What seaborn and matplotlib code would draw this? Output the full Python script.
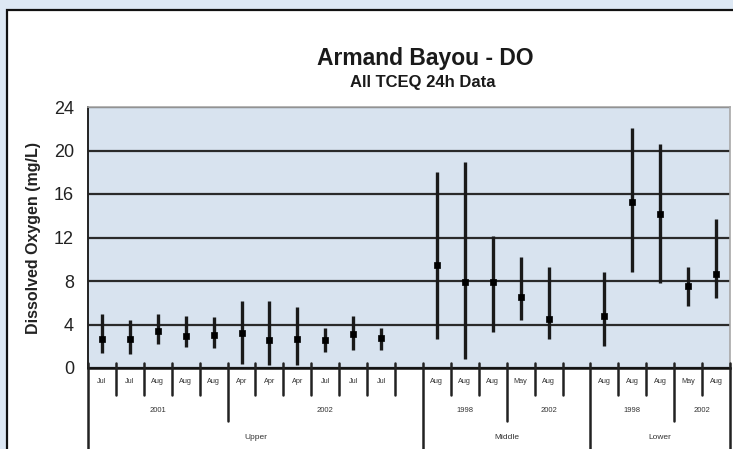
import numpy as np
import pandas as pd
import matplotlib
matplotlib.use("Agg")
import matplotlib.pyplot as plt
import matplotlib.patches as mpatches
import seaborn as sns

# ─── Data ────────────────────────────────────────────────────────────────────
REGIONS = ["Upper", "Middle", "Lower"]

region = ["Upper"] * 11 + ["Middle"] * 5 + ["Lower"] * 5
year = (["2001"] * 5 + ["2002"] * 6 +
        ["1998"] * 3 + ["2002"] * 2 +
        ["1998"] * 3 + ["2002"] * 2)
month = ["Jul", "Jul", "Aug", "Aug", "Aug", "Apr", "Apr", "Apr", "Jul", "Jul", "Jul",
         "Aug", "Aug", "Aug", "May", "Aug",
         "Aug", "Aug", "Aug", "May", "Aug"]

do_mean = [2.7, 2.7, 3.4, 2.9, 3.0, 3.2, 2.6, 2.7, 2.6, 3.1, 2.8,
           9.5, 7.9, 7.9, 6.5, 4.5,
           4.8, 15.3, 14.2, 7.5, 8.6]
do_min = [1.4, 1.3, 2.2, 1.9, 1.8, 0.4, 0.3, 0.3, 1.5, 1.7, 1.7,
          2.7, 0.8, 3.3, 4.4, 2.7,
          2.0, 8.8, 7.8, 5.7, 6.4]
do_max = [5.0, 4.4, 5.0, 4.8, 4.7, 6.2, 6.2, 5.6, 3.7, 4.8, 3.7,
          18.0, 18.9, 12.1, 10.2, 9.3,
          8.8, 22.1, 20.6, 9.3, 13.7]

Y_TICKS = [0, 4, 8, 12, 16, 20, 24]

# ─── Category positions (one blank slot after each region but the last) ─────
df = pd.DataFrame({"region": region, "year": year, "month": month,
                   "do_mean": do_mean, "do_min": do_min, "do_max": do_max})
df["gidx"] = df["region"].map({r: i for i, r in enumerate(REGIONS)})
df["pos"] = np.arange(len(df)) + df["gidx"]

spans = {}
for r in REGIONS:
    sub = df[df.region == r]
    lo = sub.pos.min() - 0.5
    hi = sub.pos.max() + 0.5 + (1 if r != REGIONS[-1] else 0)
    spans[r] = (lo, hi)
x_end = spans[REGIONS[-1]][1]

# ─── Figure ──────────────────────────────────────────────────────────────────
sns.set_style("white")
plt.rcParams["font.family"] = ["Liberation Sans", "DejaVu Sans"]

W, H = 733, 449
fig = plt.figure(figsize=(W / 100, H / 100), dpi=100)
fig.patch.set_facecolor("#dde8f4")
panel = mpatches.Rectangle((7 / W, -0.05), 1.2, 1 - 10 / H + 0.05,
                           transform=fig.transFigure, facecolor="white",
                           edgecolor="#111111", linewidth=1.6, zorder=0)
fig.add_artist(panel)

ax = fig.add_axes([88 / W, 1 - 368 / H, (730 - 88) / W, (368 - 107) / H])
ax.set_facecolor("#d8e3ef")
ax.set_zorder(2)

# range bars and mean markers
ax.vlines(df["pos"], df["do_min"], df["do_max"], color="#1a1a1a", linewidth=2.4, zorder=3)
sns.scatterplot(data=df, x="pos", y="do_mean", marker="s", color="black", s=24,
                edgecolor="black", linewidth=0.5, legend=False, ax=ax, zorder=4)

ax.set_xlim(-0.5, x_end)
ax.set_ylim(0, 24)
ax.set_yticks(Y_TICKS)
ax.set_yticklabels([str(t) for t in Y_TICKS], fontsize=13, color="#222222")
ax.tick_params(axis="y", direction="out", length=8, width=1.3, color="#222222", pad=2)
ax.set_xticks([])
ax.set_xlabel("")
ax.set_ylabel("Dissolved Oxygen (mg/L)", fontsize=11.5, fontweight="bold",
              color="#222222", labelpad=9)
ax.yaxis.grid(True, color="#2a2a2a", linewidth=1.6)
ax.set_axisbelow(True)

for side in ["top", "right"]:
    ax.spines[side].set_color("#a8a8a8")
    ax.spines[side].set_linewidth(1.2)
ax.spines["left"].set_color("#222222")
ax.spines["left"].set_linewidth(1.4)
ax.spines["bottom"].set_color("#111111")
ax.spines["bottom"].set_linewidth(1.8)

# ─── Multi-level category axis ───────────────────────────────────────────────
xt = ax.get_xaxis_transform()
ax_h = 368 - 107
y_month = -(395 - 368) / ax_h
y_year = -(421 - 368) / ax_h
y_region = -(452 - 368) / ax_h
y_top = 5 / ax_h

year_bounds, region_bounds = set(), set()
for r in REGIONS:
    lo, hi = spans[r]
    region_bounds.update([lo, hi])
    sub = df[df.region == r]
    yrs = list(dict.fromkeys(sub.year))
    for k, yr in enumerate(yrs):
        ysub = sub[sub.year == yr]
        ylo = ysub.pos.min() - 0.5
        yhi = ysub.pos.max() + 0.5 if k < len(yrs) - 1 else hi
        if k > 0:
            year_bounds.add(ylo)
        ax.text((ylo + yhi) / 2, (y_month + y_year) / 2 - 0.01, yr, transform=xt,
                ha="center", va="center", fontsize=5.5, color="#333333")
    ax.text((lo + hi) / 2, (y_year + y_region) / 2 - 0.005, r, transform=xt,
            ha="center", va="center", fontsize=6, color="#333333")

for p, m in zip(df["pos"], df["month"]):
    ax.text(p, y_month / 2, m, transform=xt, ha="center", va="center",
            fontsize=5.2, color="#333333")

all_bounds = sorted(set(np.concatenate([df["pos"] - 0.5, df["pos"] + 0.5])) | region_bounds)
for b in all_bounds:
    if b in region_bounds:
        y0 = y_region
    elif b in year_bounds:
        y0 = y_year
    else:
        y0 = y_month
    ax.plot([b, b], [y_top, y0], transform=xt, color="#222222",
            linewidth=1.8, clip_on=False, zorder=5)

# ─── Titles ──────────────────────────────────────────────────────────────────
fig.text(425 / W, 1 - 59 / H, "Armand Bayou - DO", ha="center", va="center",
         fontsize=16.5, fontweight="bold", color="#1a1a1a")
fig.text(423 / W, 1 - 82 / H, "All TCEQ 24h Data", ha="center", va="center",
         fontsize=12, fontweight="bold", color="#1a1a1a")

fig.savefig("out.png", dpi=100, facecolor=fig.get_facecolor())
